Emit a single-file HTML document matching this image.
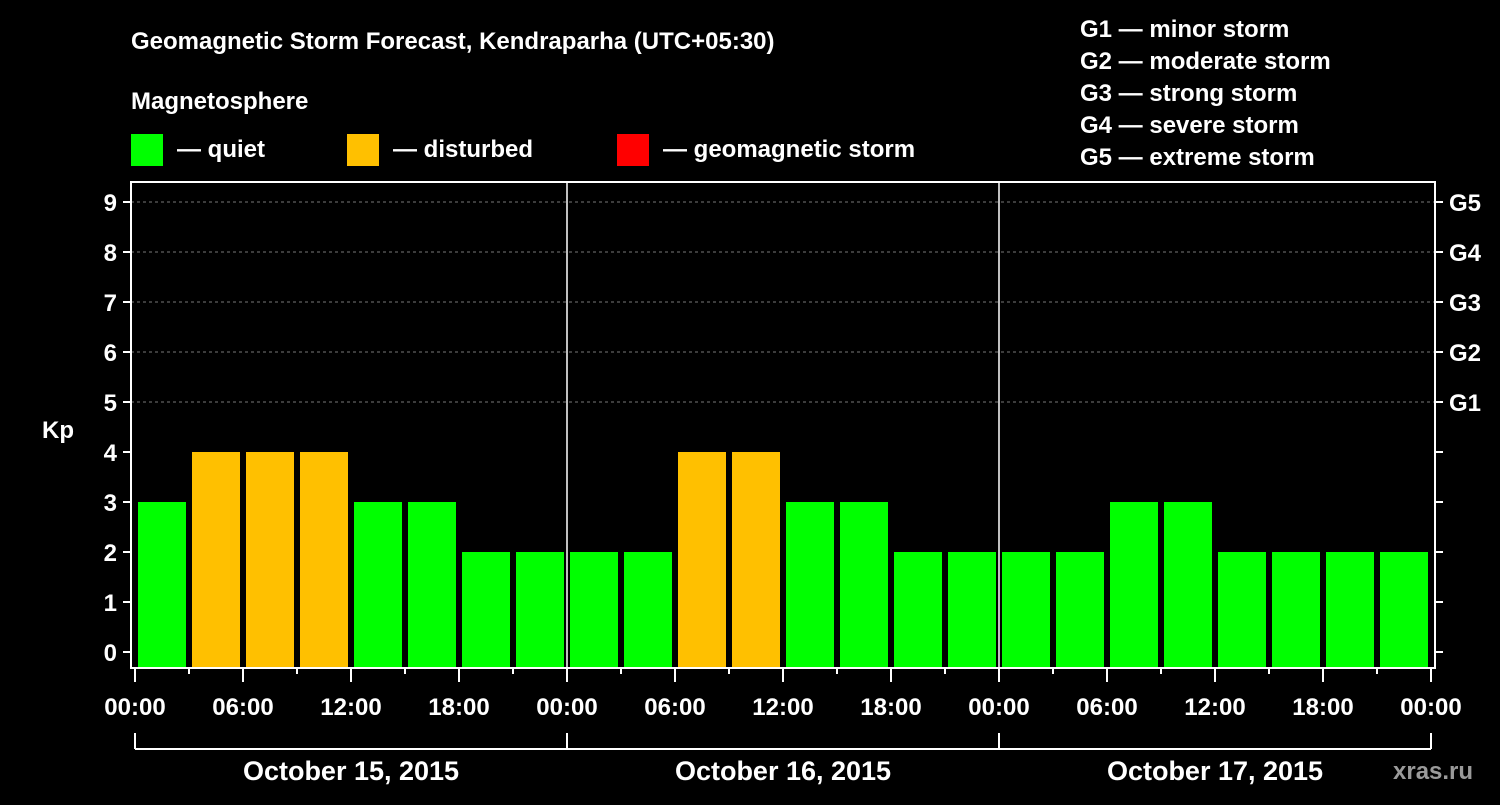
<!DOCTYPE html>
<html><head><meta charset="utf-8"><style>
body{margin:0;background:#000;width:1500px;height:800px;overflow:hidden}
svg text{font-family:"Liberation Sans",sans-serif;font-weight:bold;fill:#fff}
</style></head><body>
<svg width="1500" height="800">
<g>
<text x="131" y="49" font-size="24">Geomagnetic Storm Forecast, Kendraparha (UTC+05:30)</text>
<text x="131" y="109" font-size="24">Magnetosphere</text>
<rect x="131" y="134" width="32" height="32" fill="#00ff00"/>
<text x="177" y="157" font-size="24">— quiet</text>
<rect x="347" y="134" width="32" height="32" fill="#ffc000"/>
<text x="393" y="157" font-size="24">— disturbed</text>
<rect x="617" y="134" width="32" height="32" fill="#ff0000"/>
<text x="663" y="157" font-size="24">— geomagnetic storm</text>
<text x="1080" y="37" font-size="24">G1 — minor storm</text>
<text x="1080" y="69" font-size="24">G2 — moderate storm</text>
<text x="1080" y="101" font-size="24">G3 — strong storm</text>
<text x="1080" y="133" font-size="24">G4 — severe storm</text>
<text x="1080" y="165" font-size="24">G5 — extreme storm</text>
<text x="42" y="438" font-size="24">Kp</text>
<text x="1393" y="779" font-size="24" fill="#888" style="fill:#9a9a9a">xras.ru</text>
</g>
<g id="plot"></g>
</svg>
<script>
const kpValues=[3,4,4,4,3,3,2,2,2,2,4,4,3,3,2,2,2,2,3,3,2,2,2,2,2];
const yTicks=[0,1,2,3,4,5,6,7,8,9];
const gLabels=["G1","G2","G3","G4","G5"];
const xLabels=["00:00","06:00","12:00","18:00","00:00","06:00","12:00","18:00","00:00","06:00","12:00","18:00","00:00"];
const dayLabels=["October 15, 2015","October 16, 2015","October 17, 2015"];
const NS="http://www.w3.org/2000/svg";
const g=document.getElementById('plot');
const L=131,R=1435,T=182,B=668,X0=135,HR=18;
const y=v=>652-v*50, x=h=>X0+h*HR;
function mk(t,a){const e=document.createElementNS(NS,t);for(const k in a)e.setAttribute(k,a[k]);g.appendChild(e);return e;}
// grid
yTicks.forEach(v=>{if(v>=5){const l=mk('line',{x1:L,x2:R,y1:y(v),y2:y(v),stroke:'#777','stroke-dasharray':'3,3'});

}});
// bars
kpValues.forEach((v,i)=>{const c=x(-1+i*3+2)+9;let x1=c-24,x2=c+24;x1=Math.max(x1,X0+1);x2=Math.min(x2,R-6);
const r=mk('rect',{x:x1,y:y(v),width:x2-x1,height:B-y(v),fill:v>=5?'#ff0000':v>=4?'#ffc000':'#00ff00'});

});
// day separators
[1,2].forEach(d=>{const l=mk('line',{x1:x(24*d),x2:x(24*d),y1:T,y2:B,stroke:'#fff','stroke-width':1.5});

});
const fr=mk('rect',{x:L,y:T,width:R-L,height:B-T,fill:'none',stroke:'#fff','stroke-width':2});


yTicks.forEach(v=>{mk('line',{x1:L-8,x2:L,y1:y(v),y2:y(v),stroke:'#fff','stroke-width':2});mk('line',{x1:R,x2:R+8,y1:y(v),y2:y(v),stroke:'#fff','stroke-width':2});
const t=mk('text',{x:L-14,y:y(v)+9,'font-size':24,'text-anchor':'end'});t.textContent=v;

});
gLabels.forEach((s,i)=>{const t=mk('text',{x:1449,y:y(5+i)+9,'font-size':24});t.textContent=s;

});
for(let h=0;h<=72;h+=3){mk('line',{x1:x(h),x2:x(h),y1:B,y2:B+(h%6?6:14),stroke:'#fff','stroke-width':2});}
xLabels.forEach((s,i)=>{const t=mk('text',{x:x(i*6),y:715,'font-size':24,'text-anchor':'middle'});t.textContent=s;

});
mk('line',{x1:x(0),x2:x(72),y1:749,y2:749,stroke:'#fff','stroke-width':2});
[0,24,48,72].forEach(h=>mk('line',{x1:x(h),x2:x(h),y1:733,y2:749,stroke:'#fff','stroke-width':2}));
dayLabels.forEach((s,i)=>{const t=mk('text',{x:x(24*i+12),y:780,'font-size':27,'text-anchor':'middle'});t.textContent=s;

});
</script>
</body></html>
